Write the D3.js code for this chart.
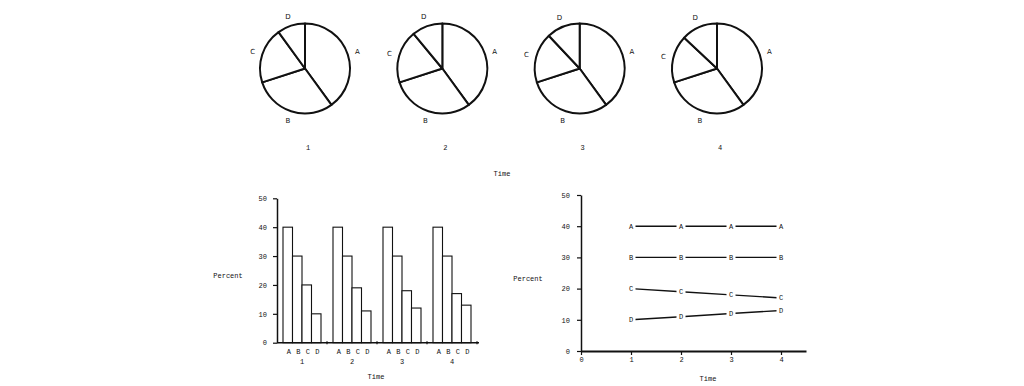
<!DOCTYPE html>
<html>
<head>
<meta charset="utf-8">
<script src="https://cdn.jsdelivr.net/npm/d3@7/dist/d3.min.js"></script>
<style>
  body { margin: 0; background: #fff; }
  text { font-family: "Liberation Mono", "DejaVu Sans Mono", monospace; font-size: 7px; fill: #111; }
  .pie-label { font-family: "DejaVu Sans", sans-serif; font-size: 7px; }
</style>
</head>
<body>
<div id="chart"></div>
<script>
// ---- data ----
const times = [1, 2, 3, 4];
const categories = ['A', 'B', 'C', 'D'];
const valuesA = [40, 40, 40, 40];
const valuesB = [30, 30, 30, 30];
const valuesC = [20, 19, 18, 17];
const valuesD = [10, 11, 12, 13];
const yTicks = [0, 10, 20, 30, 40, 50];
const lineXTicks = [0, 1, 2, 3, 4];

const seriesByCat = { A: valuesA, B: valuesB, C: valuesC, D: valuesD };

const width = 1024, height = 386;
const ink = '#111';

const svg = d3.select('#chart')
  .append('svg')
  .attr('width', width)
  .attr('height', height);

// ********** PIES **********
const pieX = d3.scalePoint().domain(times).range([305, 717]);
const pieY = 68.5;
const radius = 45;

const pie = d3.pie().sort(null).value(d => d.value);
const arc = d3.arc().innerRadius(0).outerRadius(radius);
const labelArc = d3.arc().innerRadius(55).outerRadius(55);

times.forEach((t, i) => {
  const slices = categories.map(c => ({ cat: c, value: seriesByCat[c][i] }));
  const g = svg.append('g')
    .attr('transform', `translate(${pieX(t)}, ${pieY})`);

  g.selectAll('path')
    .data(pie(slices))
    .enter()
    .append('path')
    .attr('d', arc)
    .attr('fill', '#fff')
    .attr('stroke', ink)
    .attr('stroke-width', 2)
    .attr('stroke-linejoin', 'round');

  g.selectAll('text.pie-label')
    .data(pie(slices))
    .enter()
    .append('text')
    .attr('class', 'pie-label')
    .attr('transform', d => `translate(${labelArc.centroid(d)})`)
    .attr('text-anchor', 'middle')
    .attr('dy', '0.35em')
    .text(d => d.data.cat);

  svg.append('text')
    .attr('x', pieX(t) + 3)
    .attr('y', 148)
    .attr('text-anchor', 'middle')
    .attr('dy', '0.35em')
    .text(t);
});

svg.append('text')
  .attr('x', 502)
  .attr('y', 174)
  .attr('text-anchor', 'middle')
  .attr('dy', '0.35em')
  .text('Time');

// ********** BAR CHART **********
const barY = d3.scaleLinear().domain([0, 50]).range([342.7, 198.3]);
const barGroup = d3.scaleBand().domain(times).range([277, 477]);
const barInner = d3.scaleBand().domain(categories).range([6, 44]);

const barData = [];
times.forEach((t, i) => {
  categories.forEach(c => barData.push({ time: t, cat: c, value: seriesByCat[c][i] }));
});

svg.append('g')
  .selectAll('rect')
  .data(barData)
  .enter()
  .append('rect')
  .attr('x', d => barGroup(d.time) + barInner(d.cat))
  .attr('y', d => barY(d.value))
  .attr('width', barInner.bandwidth())
  .attr('height', d => barY(0) - barY(d.value))
  .attr('fill', '#fff')
  .attr('stroke', ink)
  .attr('stroke-width', 1.1);

// y axis
svg.append('g')
  .attr('transform', 'translate(277, 0)')
  .call(d3.axisLeft(barY).tickValues(yTicks).tickSize(4).tickPadding(6).tickSizeOuter(0));

// x axis: baseline with ticks at group boundaries
const barXAxis = svg.append('g');
barXAxis.append('line')
  .attr('x1', 277).attr('x2', 479)
  .attr('y1', barY(0)).attr('y2', barY(0))
  .attr('stroke', ink).attr('stroke-width', 1.5);
const boundaries = times.map(t => barGroup(t)).concat([barGroup(times[times.length - 1]) + barGroup.bandwidth()]);
barXAxis.selectAll('line.tick')
  .data(boundaries.slice(1))
  .enter()
  .append('line')
  .attr('class', 'tick')
  .attr('x1', d => d).attr('x2', d => d)
  .attr('y1', barY(0) - 1.5).attr('y2', barY(0) + 1.5)
  .attr('stroke', ink).attr('stroke-width', 1.2);

// category letters + time numbers
svg.append('g')
  .selectAll('text')
  .data(barData)
  .enter()
  .append('text')
  .attr('x', d => barGroup(d.time) + barInner(d.cat) + barInner.bandwidth() / 2 + 1)
  .attr('y', 352)
  .attr('text-anchor', 'middle')
  .attr('dy', '0.35em')
  .text(d => d.cat);

svg.append('g')
  .selectAll('text')
  .data(times)
  .enter()
  .append('text')
  .attr('x', d => barGroup(d) + 25)
  .attr('y', 362)
  .attr('text-anchor', 'middle')
  .attr('dy', '0.35em')
  .text(d => d);

svg.append('text')
  .attr('x', 376).attr('y', 377)
  .attr('text-anchor', 'middle').attr('dy', '0.35em')
  .text('Time');

svg.append('text')
  .attr('x', 228).attr('y', 275.5)
  .attr('text-anchor', 'middle').attr('dy', '0.35em')
  .text('Percent');

// ********** LINE CHART **********
const lineX = d3.scaleLinear().domain([0, 4.5]).range([581, 806]);
const lineY = d3.scaleLinear().domain([0, 50]).range([351, 195]);

svg.append('g')
  .attr('transform', 'translate(581, 0)')
  .call(d3.axisLeft(lineY).tickValues(yTicks).tickSize(4).tickPadding(7).tickSizeOuter(0));

svg.append('g')
  .attr('class', 'line-x')
  .attr('transform', `translate(0, ${lineY(0)})`)
  .call(d3.axisBottom(lineX).tickValues(lineXTicks).tickFormat(d3.format('d')).tickSize(4).tickPadding(2).tickSizeOuter(0));

const line = d3.line()
  .x((d, i) => lineX(times[i]))
  .y(d => lineY(d));

categories.forEach(c => {
  svg.append('path')
    .attr('d', line(seriesByCat[c]))
    .attr('fill', 'none')
    .attr('stroke', ink)
    .attr('stroke-width', 1.4);

  const marks = svg.append('g')
    .selectAll('g')
    .data(seriesByCat[c])
    .enter()
    .append('g')
    .attr('transform', (d, i) => `translate(${lineX(times[i])}, ${lineY(d)})`);

  // white knock-out so the line stops short of each letter
  marks.append('rect')
    .attr('x', -4.5).attr('y', -4.5)
    .attr('width', 9).attr('height', 9)
    .attr('fill', '#fff');

  marks.append('text')
    .attr('text-anchor', 'middle')
    .attr('dy', '0.35em')
    .text(c);
});

svg.append('text')
  .attr('x', 528).attr('y', 278.5)
  .attr('text-anchor', 'middle').attr('dy', '0.35em')
  .text('Percent');

svg.append('text')
  .attr('x', 708).attr('y', 379)
  .attr('text-anchor', 'middle').attr('dy', '0.35em')
  .text('Time');

// axis styling
svg.selectAll('.domain').attr('stroke', ink).attr('stroke-width', 1.5);
svg.select('g.line-x path.domain').attr('stroke-width', 2);
svg.selectAll('.tick line').attr('stroke', ink).attr('stroke-width', 1.2);
svg.selectAll('.tick text').style('font-family', '"Liberation Mono", monospace').style('font-size', '7px').attr('fill', ink);
</script>
</body>
</html>
